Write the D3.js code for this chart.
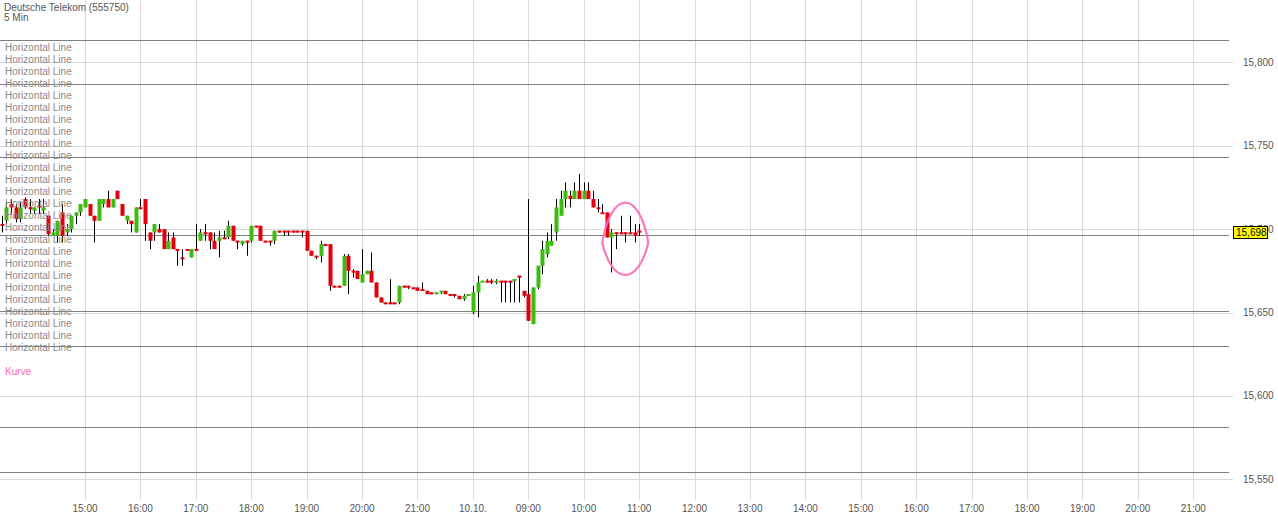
<!DOCTYPE html>
<html><head><meta charset="utf-8">
<script src="https://cdn.jsdelivr.net/npm/d3@7"></script>
<style>html,body{margin:0;padding:0;background:#fff;overflow:hidden}svg{display:block}</style>
</head><body><svg id="c" width="1278" height="516"></svg>
<script>
// ---------- data ----------
const titleText = "Deutsche Telekom (555750)";
const intervalText = "5 Min";
const tickSlots = [18,30,42,54,66,78,90,102,114,126,138,150,162,174,186,198,210,222,234,246,258];
const tickLabels = ["15:00","16:00","17:00","18:00","19:00","20:00","21:00","10.10.","09:00","10:00","11:00","12:00","13:00","14:00","15:00","16:00","17:00","18:00","19:00","20:00","21:00"];
const priceTicks = [15.55,15.60,15.65,15.70,15.75,15.80];
const priceTickLabels = ["15,550","15,600","15,650","15,700","15,750","15,800"];
const hLinePrices = [15.8134,15.7870,15.7434,15.6965,15.6511,15.6297,15.5812,15.5546];
const drawingLabels = ["Horizontal Line","Horizontal Line","Horizontal Line","Horizontal Line","Horizontal Line","Horizontal Line","Horizontal Line","Horizontal Line","Horizontal Line","Horizontal Line","Horizontal Line","Horizontal Line","Horizontal Line","Horizontal Line","Horizontal Line","Horizontal Line","Horizontal Line","Horizontal Line","Horizontal Line","Horizontal Line","Horizontal Line","Horizontal Line","Horizontal Line","Horizontal Line","Horizontal Line","Horizontal Line"];
const curveLabel = "Kurve";
const lastPrice = 15.698;
const lastPriceLabel = "15,698";
// curve drawing: left, top, right, bottom anchors
const curveSlots  = [130.0, 135.0, 140.0, 135.0];
const curvePrices = [15.6919, 15.7159, 15.6919, 15.6725];

const opens = [15.703,15.705,15.715,15.713,15.706,15.718,15.713,15.711,15.714,15.711,
15.708,15.696,15.696,15.710,15.698,15.700,15.708,15.710,15.713,15.715,
15.708,15.705,15.715,15.718,15.713,15.723,15.715,15.705,15.705,15.698,
15.713,15.718,15.698,15.698,15.700,15.700,15.688,15.695,15.688,15.683,
15.688,15.683,15.688,15.693,15.698,15.698,15.693,15.693,15.695,15.695,
15.702,15.693,15.691,15.693,15.693,15.702,15.702,15.693,15.693,15.693,
15.699,15.699,15.699,15.699,15.699,15.699,15.699,15.687,15.684,15.684,
15.691,15.691,15.666,15.666,15.666,15.684,15.675,15.675,15.668,15.673,
15.675,15.668,15.659,15.656,15.656,15.656,15.656,15.666,15.666,15.665,
15.665,15.664,15.663,15.662,15.661,15.662,15.663,15.661,15.661,15.660,
15.658,15.660,15.650,15.662,15.668,15.669,15.669,15.668,15.669,15.669,
15.669,15.669,15.672,15.663,15.661,15.643,15.665,15.678,15.685,15.690,
15.698,15.708,15.718,15.720,15.718,15.723,15.718,15.723,15.718,15.713,
15.710,15.710,15.695,15.698,15.698,15.698,15.698,15.698,15.699];
const highs = [15.708,15.716,15.718,15.715,15.716,15.719,15.718,15.713,15.718,15.718,
15.708,15.700,15.705,15.715,15.703,15.708,15.710,15.715,15.718,15.715,
15.708,15.718,15.718,15.723,15.718,15.723,15.715,15.708,15.705,15.713,
15.718,15.718,15.698,15.703,15.703,15.700,15.698,15.698,15.688,15.688,
15.688,15.688,15.703,15.700,15.703,15.698,15.698,15.699,15.699,15.705,
15.702,15.693,15.693,15.693,15.702,15.702,15.702,15.693,15.693,15.699,
15.699,15.699,15.699,15.699,15.699,15.699,15.699,15.687,15.684,15.693,
15.691,15.691,15.666,15.666,15.685,15.685,15.676,15.675,15.688,15.675,
15.686,15.668,15.659,15.656,15.670,15.656,15.666,15.666,15.666,15.665,
15.665,15.668,15.663,15.662,15.662,15.663,15.663,15.661,15.661,15.660,
15.661,15.661,15.666,15.672,15.669,15.670,15.670,15.670,15.669,15.669,
15.669,15.670,15.672,15.663,15.718,15.665,15.678,15.693,15.698,15.703,
15.718,15.723,15.728,15.723,15.728,15.733,15.728,15.728,15.723,15.718,
15.715,15.710,15.700,15.698,15.708,15.698,15.708,15.703,15.703];
const lows = [15.698,15.703,15.709,15.704,15.704,15.712,15.709,15.709,15.709,15.709,
15.696,15.696,15.692,15.692,15.696,15.698,15.703,15.708,15.713,15.708,
15.692,15.705,15.713,15.713,15.713,15.718,15.708,15.703,15.698,15.698,
15.713,15.693,15.688,15.693,15.698,15.688,15.688,15.688,15.678,15.678,
15.687,15.683,15.687,15.693,15.693,15.688,15.688,15.683,15.694,15.694,
15.693,15.688,15.690,15.684,15.692,15.701,15.693,15.692,15.690,15.691,
15.698,15.696,15.696,15.698,15.698,15.695,15.687,15.684,15.682,15.680,
15.690,15.663,15.665,15.665,15.666,15.661,15.671,15.670,15.668,15.673,
15.668,15.659,15.656,15.655,15.655,15.655,15.655,15.665,15.664,15.664,
15.663,15.663,15.661,15.661,15.661,15.661,15.661,15.660,15.659,15.658,
15.657,15.660,15.649,15.647,15.668,15.668,15.667,15.667,15.656,15.656,
15.656,15.656,15.656,15.659,15.645,15.643,15.664,15.673,15.683,15.690,
15.693,15.708,15.713,15.713,15.718,15.718,15.718,15.718,15.713,15.710,
15.710,15.695,15.674,15.688,15.697,15.692,15.697,15.692,15.696];
const closes = [15.702,15.713,15.713,15.706,15.713,15.713,15.712,15.713,15.713,15.713,
15.697,15.698,15.705,15.696,15.700,15.708,15.710,15.715,15.718,15.708,
15.705,15.718,15.718,15.713,15.718,15.718,15.708,15.708,15.703,15.713,
15.712,15.703,15.693,15.703,15.698,15.688,15.693,15.688,15.687,15.682,
15.687,15.688,15.687,15.698,15.697,15.693,15.688,15.695,15.694,15.702,
15.693,15.692,15.693,15.692,15.702,15.701,15.693,15.692,15.692,15.699,
15.698,15.698,15.698,15.698,15.698,15.698,15.687,15.684,15.683,15.691,
15.690,15.666,15.665,15.665,15.684,15.675,15.674,15.670,15.673,15.675,
15.668,15.659,15.656,15.655,15.655,15.655,15.666,15.665,15.665,15.664,
15.663,15.663,15.661,15.661,15.662,15.663,15.661,15.660,15.660,15.658,
15.660,15.661,15.662,15.668,15.669,15.668,15.668,15.669,15.668,15.668,
15.668,15.670,15.671,15.660,15.645,15.665,15.678,15.688,15.693,15.693,
15.713,15.718,15.723,15.718,15.723,15.718,15.723,15.718,15.713,15.712,
15.709,15.695,15.698,15.697,15.697,15.697,15.697,15.696,15.698];

// ---------- chart ----------
const svg = d3.select("#c");
const FONT = "'Liberation Sans', Arial, sans-serif";
const x = d3.scaleLinear().domain([18, 258]).range([85, 1193.3]);
const y = d3.scaleLinear().domain([15.55, 15.80]).range([479.3, 62.3]);
const plotRight = 1233, lineRight = 1229;
const crisp = v => Math.round(v) + 0.5;

// vertical grid
svg.append("g").selectAll("line").data(tickSlots).join("line")
  .attr("x1", d => crisp(x(d))).attr("x2", d => crisp(x(d)))
  .attr("y1", 0).attr("y2", 500)
  .attr("stroke", "#d9d9d9").attr("stroke-width", 1);

// horizontal grid
svg.append("g").selectAll("line").data(priceTicks).join("line")
  .attr("x1", 0).attr("x2", plotRight)
  .attr("y1", d => crisp(y(d))).attr("y2", d => crisp(y(d)))
  .attr("stroke", "#d9d9d9").attr("stroke-width", 1);

// x labels
svg.append("g").selectAll("text").data(tickSlots).join("text")
  .attr("x", d => x(d)).attr("y", 512)
  .attr("text-anchor", "middle")
  .attr("font-family", FONT).attr("font-size", 10).attr("fill", "#555")
  .text((d, i) => tickLabels[i]);

// y labels
svg.append("g").selectAll("text").data(priceTicks).join("text")
  .attr("x", 1243).attr("y", d => y(d) + 3.5)
  .attr("font-family", FONT).attr("font-size", 10).attr("fill", "#555")
  .text((d, i) => priceTickLabels[i]);

// horizontal line drawings
svg.append("g").selectAll("line").data(hLinePrices).join("line")
  .attr("x1", 0).attr("x2", lineRight)
  .attr("y1", d => crisp(y(d))).attr("y2", d => crisp(y(d)))
  .attr("stroke", "#808080").attr("stroke-width", 1);

// candles
const candles = opens.map((o, i) => ({i, o, h: highs[i], l: lows[i], c: closes[i]}));
const cg = svg.append("g");
cg.selectAll("line").data(candles).join("line")
  .attr("x1", d => crisp(x(d.i))).attr("x2", d => crisp(x(d.i)))
  .attr("y1", d => y(d.h)).attr("y2", d => y(d.l))
  .attr("stroke", "#000").attr("stroke-width", 1);
cg.selectAll("rect").data(candles).join("rect")
  .attr("x", d => Math.round(x(d.i)) - 1.5)
  .attr("width", 4)
  .attr("y", d => { const t = y(Math.max(d.o, d.c)), b = y(Math.min(d.o, d.c)); return (b - t < 2) ? (t + b) / 2 - 1 : t; })
  .attr("height", d => Math.max(2, y(Math.min(d.o, d.c)) - y(Math.max(d.o, d.c))))
  .attr("fill", d => d.c >= d.o ? "#3fbb10" : "#e2000f");

// title
svg.append("text").attr("x", 4).attr("y", 11)
  .attr("font-family", FONT).attr("font-size", 10).attr("fill", "#555").text(titleText);
svg.append("text").attr("x", 4).attr("y", 21)
  .attr("font-family", FONT).attr("font-size", 10).attr("fill", "#555").text(intervalText);

// drawing legend
svg.append("g").selectAll("text").data(drawingLabels).join("text")
  .attr("x", 5).attr("y", (d, i) => 50.5 + i * 12)
  .attr("font-family", FONT).attr("font-size", 10).attr("fill", "#8a8a8a")
  .text(d => d);
svg.append("text").attr("x", 5).attr("y", 50.5 + drawingLabels.length * 12 + 12)
  .attr("font-family", FONT).attr("font-size", 10).attr("fill", "#ff69b4").text(curveLabel);

// curve drawing (lens shape with pointed ends)
const L = [x(curveSlots[0]), y(curvePrices[0])];
const T = [x(curveSlots[1]), y(curvePrices[1])];
const R = [x(curveSlots[2]), y(curvePrices[2])];
const B = [x(curveSlots[3]), y(curvePrices[3])];
const w = R[0] - L[0];
const ctop = (T[1] - 0.25 * L[1]) / 0.75;
const cbot = (B[1] - 0.25 * L[1]) / 0.75;
const p = d3.path();
p.moveTo(L[0], L[1]);
p.bezierCurveTo(L[0] + w * 0.2, ctop, R[0] - w * 0.2, ctop, R[0], R[1]);
p.bezierCurveTo(R[0] - w * 0.22, cbot, L[0] + w * 0.22, cbot, L[0], L[1]);
p.closePath();
svg.append("path").attr("d", p.toString())
  .attr("fill", "none").attr("stroke", "#ff69b4").attr("stroke-width", 2.2)
  .attr("stroke-linejoin", "miter").attr("stroke-opacity", 0.9);

// last price label
const ly = y(lastPrice);
svg.append("rect").attr("x", 1233.5).attr("y", Math.round(ly) - 5.5).attr("width", 34).attr("height", 12)
  .attr("fill", "#ffff00").attr("stroke", "#000").attr("stroke-width", 1);
svg.append("text").attr("x", 1236).attr("y", Math.round(ly) + 4)
  .attr("font-family", FONT).attr("font-size", 10).attr("fill", "#000").text(lastPriceLabel);
</script>
</body></html>
